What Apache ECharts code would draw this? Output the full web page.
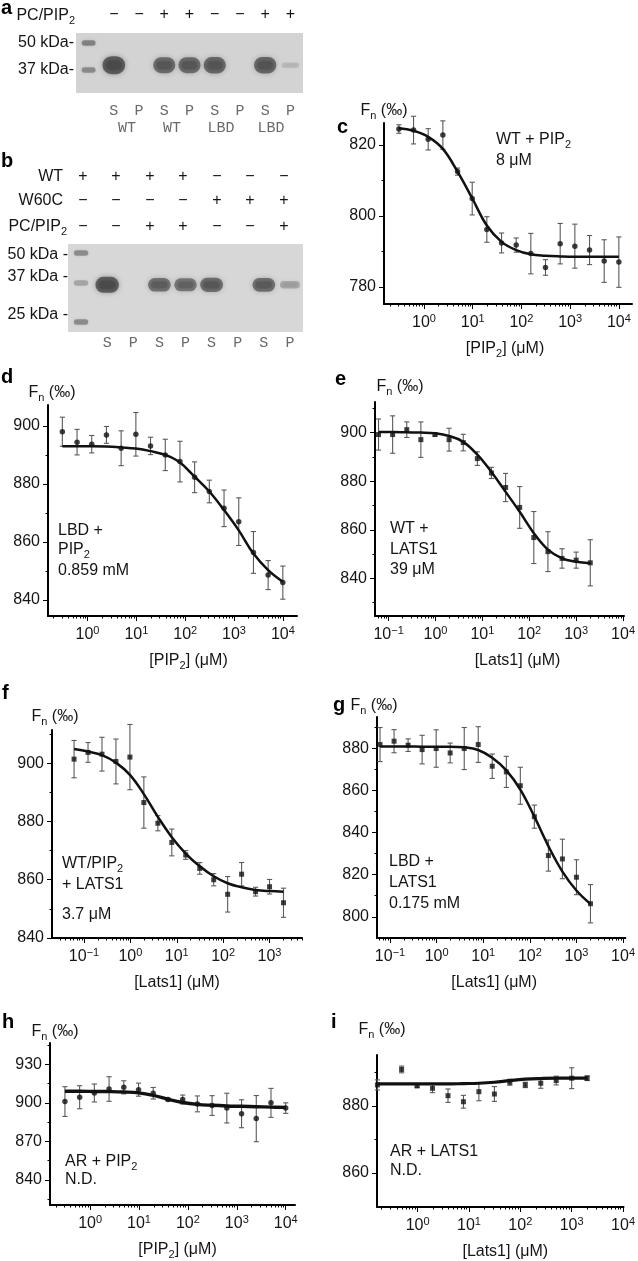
<!DOCTYPE html>
<html>
<head>
<meta charset="utf-8">
<title>Gels and MST binding curves</title>
<script src="https://cdn.jsdelivr.net/npm/echarts@6.0.0/dist/echarts.min.js"></script>
<style>
html,body{margin:0;padding:0;background:#ffffff;}
#chart{width:638px;height:1261px;}
</style>
</head>
<body>
<div id="chart"></div>
<script>
// ================= DATA =================
// --- Gel a ---
const gelA_lanes = ['', 'S', 'P', 'S', 'P', 'S', 'P', 'S', 'P'];
const gelA_signs = ['', '−', '−', '+', '+', '−', '−', '+', '+'];
const gelA_groups = ['WT', 'WT', 'LBD', 'LBD'];
const gelA_bandIntensity = [0, 1.0, 0, 0.85, 0.85, 0.88, 0, 0.9, 0.1];
const gelA_bandKDa = 39;
const gelA_ladderKDa = [50, 37];
const gelA_ladderIntensity = [0.5, 0.45];
// --- Gel b ---
const gelB_lanes = ['', 'S', 'P', 'S', 'P', 'S', 'P', 'S', 'P'];
const gelB_rowNames = ['WT', 'W60C', 'PC/PIP{sub|2}'];
const gelB_signsWT = ['+', '+', '+', '+', '−', '−', '−'];
const gelB_signsW60C = ['−', '−', '−', '−', '+', '+', '+'];
const gelB_signsPIP2 = ['−', '−', '+', '+', '−', '−', '+'];
const gelB_bandIntensity = [0, 1.0, 0, 0.8, 0.75, 0.85, 0, 0.82, 0.3];
const gelB_bandKDa = 36.3;
const gelB_ladderKDa = [50, 37, 25];
const gelB_ladderIntensity = [0.45, 0.3, 0.45];
const gelB_kDaLabels = ['50 kDa -', '37 kDa -', '25 kDa -'];

// --- MST concentrations (µM) ---
const concPIP2 = [0.305, 0.61, 1.22, 2.44, 4.88, 9.77, 19.5, 39.1, 78.1, 156, 312, 625, 1250, 2500, 5000, 10000];
const concLats1 = [0.061, 0.122, 0.244, 0.488, 0.977, 1.95, 3.91, 7.81, 15.6, 31.3, 62.5, 125, 250, 500, 1000, 2000];
const concLats1AR = [0.165, 0.488, 0.977, 1.95, 3.91, 7.81, 15.6, 31.3, 62.5, 125, 250, 500, 1000, 2000];

// c: WT + PIP2  (points, error bars, fitted curve read at each concentration)
const fnC = [824.5, 824.2, 821.6, 822.8, 812.5, 804.9, 796.2, 792.4, 791.8, 789.4, 785.5, 792.2, 791.5, 790.4, 787.3, 787.0];
const errC = [1.2, 3.9, 3.0, 4.0, 1.0, 4.6, 3.6, 2.8, 2.0, 5.7, 2.2, 5.7, 6.2, 4.1, 6.0, 7.1];
const fitC = [824.7, 824.0, 822.3, 818.9, 812.5, 805.0, 797.3, 792.7, 790.4, 789.2, 788.8, 788.6, 788.5, 788.5, 788.5, 788.5];
// d: LBD + PIP2
const fnD = [898.0, 894.4, 893.7, 896.9, 892.3, 897.1, 893.1, 890.0, 887.7, 882.3, 877.4, 871.6, 867.0, 856.4, 848.6, 846.0];
const errD = [5.0, 4.4, 3.0, 2.9, 6.0, 7.5, 3.0, 5.4, 7.0, 5.3, 3.9, 6.3, 8.2, 7.2, 5.0, 5.7];
const fitD = [893.0, 893.0, 893.0, 892.9, 892.6, 892.2, 891.3, 890.0, 887.4, 882.5, 877.4, 871.0, 864.0, 856.0, 850.3, 846.3];
// e: WT + LATS1
const fnE = [899.2, 899.2, 901.2, 897.1, 899.2, 897.1, 895.9, 889.3, 883.4, 877.4, 869.2, 856.8, 851.0, 848.2, 847.5, 846.4];
const errE = [6.4, 7.7, 3.2, 7.3, 0.6, 4.7, 3.4, 2.8, 2.3, 5.8, 8.6, 10.7, 8.2, 4.0, 3.3, 9.5];
const fitE = [900.2, 900.2, 900.1, 900.0, 899.7, 898.6, 896.2, 890.9, 883.8, 875.6, 867.4, 858.6, 851.8, 848.2, 846.8, 846.2];
// f: WT/PIP2 + LATS1
const fnF = [901.4, 903.7, 903.1, 900.6, 902.1, 886.5, 879.4, 872.8, 868.5, 863.9, 860.0, 855.0, 861.9, 855.9, 857.6, 852.1];
const errF = [6.4, 3.4, 5.8, 7.7, 11.2, 8.8, 2.6, 4.6, 1.5, 2.0, 2.1, 6.1, 4.0, 1.5, 2.5, 5.0];
const fitF = [904.9, 904.0, 902.8, 900.2, 896.0, 889.4, 881.6, 874.6, 869.0, 864.6, 861.2, 858.8, 857.4, 856.5, 856.1, 855.9];
// g: LBD + LATS1
const fnG = [881.9, 883.5, 881.6, 879.5, 880.0, 877.9, 880.0, 881.9, 871.6, 868.9, 862.3, 847.6, 829.1, 827.5, 818.8, 806.2];
const errG = [8.1, 5.5, 3.0, 6.8, 8.9, 4.7, 10.0, 8.5, 5.8, 7.4, 8.8, 5.5, 7.4, 9.4, 8.3, 9.1];
const fitG = [881.0, 881.0, 881.0, 880.9, 880.9, 880.9, 880.6, 879.3, 875.6, 869.6, 860.5, 847.6, 833.6, 821.5, 812.5, 806.1];
// h: AR + PIP2
const fnH = [901.0, 904.4, 907.7, 910.8, 912.1, 910.3, 907.5, 902.6, 902.6, 899.2, 897.9, 895.9, 891.5, 887.7, 900.0, 895.9];
const errH = [11.6, 9.0, 7.0, 9.6, 5.1, 5.1, 4.5, 1.0, 3.5, 6.2, 7.7, 11.6, 10.9, 18.0, 11.3, 4.1];
const fitH = [909.0, 909.0, 908.9, 908.8, 908.5, 907.8, 905.8, 902.8, 900.3, 898.8, 898.1, 897.6, 897.3, 897.0, 896.7, 896.5];
// i: AR + LATS1
const fnI = [886.2, 890.8, 885.9, 885.2, 883.0, 881.2, 884.2, 883.5, 887.0, 886.2, 886.7, 887.5, 888.2, 888.2];
const errI = [1.5, 1.0, 0.4, 1.3, 2.0, 1.9, 2.7, 2.2, 0.9, 0.8, 1.5, 1.3, 3.1, 0.7];
const fitI = [886.5, 886.5, 886.5, 886.5, 886.5, 886.6, 886.7, 887.0, 887.5, 887.9, 888.1, 888.2, 888.2, 888.2];

// --- tick labels ---
const xTicksPIP2 = [1, 10, 100, 1000, 10000];
const xTicksLatsWide = [0.1, 1, 10, 100, 1000, 10000];
const xTicksLatsF = [0.1, 1, 10, 100, 1000];
const xTicksLatsI = [1, 10, 100, 1000, 10000];
const minorMultipliers = [2, 3, 4, 5, 6, 7, 8, 9];
const yTicksC = [780, 800, 820];       const yMinorC = [790, 810];
const yTicksD = [840, 860, 880, 900];  const yMinorD = [850, 870, 890];
const yTicksE = [840, 860, 880, 900];  const yMinorE = [830, 850, 870, 890, 910];
const yTicksF = [840, 860, 880, 900];  const yMinorF = [850, 870, 890, 910];
const yTicksG = [800, 820, 840, 860, 880]; const yMinorG = [810, 830, 850, 870, 890];
const yTicksH = [840, 870, 900, 930];  const yMinorH = [825, 855, 885, 915, 945];
const yTicksI = [860, 880];            const yMinorI = [870, 890];

// ================= RENDER =================
const FONT = "'Liberation Sans', Arial, Helvetica, sans-serif";
const MONO = "'Liberation Mono', 'Courier New', monospace";
const INK = '#151515';
const chart = echarts.init(document.getElementById('chart'), null, {renderer: 'canvas', width: 638, height: 1261});

const grids = [], xAxes = [], yAxes = [], series = [], graphics = [];

function txt(x, y, text, o) {
  o = o || {};
  graphics.push({
    type: 'text', x: x, y: y, silent: true, z: 10,
    style: {
      text: text, fontSize: o.size || 16, fontFamily: o.family || FONT,
      fontWeight: o.bold ? 'bold' : 'normal', fill: o.color || INK,
      align: o.align || 'left', verticalAlign: 'middle', lineHeight: 20,
      rich: {
        sub: {fontSize: o.subSize || 11, fontFamily: FONT, fill: o.color || INK, lineHeight: 12, verticalAlign: 'bottom'}
      }
    }
  });
}

function logMinorTicks(min, max) {
  const out = [];
  for (let e = Math.floor(Math.log10(min)); e <= Math.ceil(Math.log10(max)); e++) {
    minorMultipliers.forEach(m => {
      const v = m * Math.pow(10, e);
      if (v > min && v < max) out.push(v);
    });
  }
  return out;
}

function supLabel(v) {
  const e = Math.round(Math.log10(v));
  return '{b|10}{s|' + (e < 0 ? '−' + (-e) : e) + '}';
}

const nameRich = {
  t: {fontSize: 16, fontFamily: FONT, color: INK, lineHeight: 20},
  sub: {fontSize: 11, fontFamily: FONT, color: INK, lineHeight: 12, verticalAlign: 'bottom'}
};

function addPlot(L, d) {
  const gi = grids.length;
  grids.push({left: L.left, top: L.top, width: L.width, height: L.height, show: false});
  const xi = xAxes.length, yi = yAxes.length;
  const xBase = {gridIndex: gi, type: 'log', logBase: 10, min: L.xMin, max: L.xMax, position: 'bottom', splitLine: {show: false}};
  xAxes.push(Object.assign({}, xBase, {
    axisLine: {show: true, onZero: false, lineStyle: {color: '#000', width: 2}},
    axisTick: {show: true, inside: false, length: 5, customValues: d.xTicks, lineStyle: {color: '#000', width: 1}},
    axisLabel: {show: true, customValues: d.xTicks, margin: 9, formatter: supLabel,
      rich: {b: {fontSize: 16, fontFamily: FONT, color: INK, lineHeight: 20},
             s: {fontSize: 11, fontFamily: FONT, color: INK, lineHeight: 10, verticalAlign: 'top'}}},
    name: d.xName, nameLocation: 'middle', nameGap: 35,
    nameTextStyle: {rich: nameRich, padding: L.xNameDx >= 0 ? [0, 0, 0, 2 * L.xNameDx] : [0, -2 * L.xNameDx, 0, 0]}
  }));
  xAxes.push(Object.assign({}, xBase, {
    axisLine: {show: false},
    axisTick: {show: true, inside: false, length: 2.5, customValues: logMinorTicks(L.xMin, L.xMax), lineStyle: {color: '#000', width: 1}},
    axisLabel: {show: false}
  }));
  const yBase = {gridIndex: gi, type: 'value', min: L.yMin, max: L.yMax, position: 'left', splitLine: {show: false}, scale: true};
  yAxes.push(Object.assign({}, yBase, {
    axisLine: {show: true, onZero: false, lineStyle: {color: '#000', width: 2}},
    axisTick: {show: true, inside: false, length: 5, customValues: d.yTicks, lineStyle: {color: '#000', width: 1}},
    axisLabel: {show: true, customValues: d.yTicks, margin: 8, fontSize: 16, fontFamily: FONT, color: INK},
    name: '{t|F}{sub|n}{t| (‰)}', nameLocation: 'end', nameGap: L.fnGap,
    nameTextStyle: {rich: nameRich, align: 'center', padding: [0, 0, 0, 2 * L.fnDx]}
  }));
  yAxes.push(Object.assign({}, yBase, {
    axisLine: {show: false},
    axisTick: {show: true, inside: false, length: 2.5, customValues: d.yMinor, lineStyle: {color: '#000', width: 1}},
    axisLabel: {show: false}
  }));
  // error bars
  series.push({
    type: 'custom', xAxisIndex: xi, yAxisIndex: yi, silent: true, z: 2, clip: false,
    data: d.x.map((x, i) => [x, d.y[i] - d.err[i], d.y[i] + d.err[i]]),
    encode: {x: 0, y: [1, 2]},
    renderItem: (params, api) => {
      const x = api.value(0);
      const lo = api.coord([x, api.value(1)]);
      const hi = api.coord([x, api.value(2)]);
      const cw = 2.6;
      const st = {stroke: '#5a5a5a', lineWidth: 1.1};
      return {type: 'group', children: [
        {type: 'line', shape: {x1: lo[0], y1: lo[1], x2: hi[0], y2: hi[1]}, style: st},
        {type: 'line', shape: {x1: lo[0] - cw, y1: lo[1], x2: lo[0] + cw, y2: lo[1]}, style: st},
        {type: 'line', shape: {x1: hi[0] - cw, y1: hi[1], x2: hi[0] + cw, y2: hi[1]}, style: st}
      ]};
    }
  });
  // fitted curve (values at each concentration)
  series.push({
    type: 'line', xAxisIndex: xi, yAxisIndex: yi, silent: true, z: 3,
    data: d.x.map((x, i) => [x, d.fit[i]]),
    showSymbol: false, symbol: 'none', smooth: 0.4, clip: false,
    lineStyle: {color: '#111', width: L.lw}
  });
  // measured points
  series.push({
    type: 'scatter', xAxisIndex: xi, yAxisIndex: yi, silent: true, z: 4,
    data: d.x.map((x, i) => [x, d.y[i]]),
    symbol: L.sym, symbolSize: L.sym === 'rect' ? 5 : 5.5,
    itemStyle: {color: '#111'}
  });
}

function addGel(G, d) {
  const gi = grids.length;
  grids.push({left: G.left, top: G.top, width: G.width, height: G.height, show: true, backgroundColor: G.bg, borderWidth: 0});
  const xi = xAxes.length, yi = yAxes.length;
  xAxes.push({gridIndex: gi, type: 'category', data: d.lanes, position: 'bottom',
    axisLine: {show: false}, axisTick: {show: false}, splitLine: {show: false},
    axisLabel: {show: true, interval: 0, margin: G.spMargin, fontFamily: MONO, fontSize: 15, color: '#6a6a6a'}});
  if (d.signs) {
    xAxes.push({gridIndex: gi, type: 'category', data: d.signs, position: 'top',
      axisLine: {show: false}, axisTick: {show: false}, splitLine: {show: false},
      axisLabel: {show: true, interval: 0, margin: 10, fontFamily: FONT, fontSize: 16, color: INK}});
  }
  yAxes.push({gridIndex: gi, type: 'log', logBase: 10, min: G.yMin, max: G.yMax, position: 'left',
    axisLine: {show: false}, axisTick: {show: false}, splitLine: {show: false},
    axisLabel: d.yLabels ? {show: true, customValues: d.ladder, margin: 2, fontSize: 16, fontFamily: FONT, color: INK,
      formatter: v => v + ' kDa-'} : {show: false}});
  // ladder marker bands
  series.push({
    type: 'custom', xAxisIndex: xi, yAxisIndex: yi, silent: true, z: 2,
    data: d.ladder.map((k, i) => [0, k, d.ladderInt[i]]),
    renderItem: (params, api) => {
      const c = api.coord([api.value(0), api.value(1)]);
      const lw = api.size([1, 0])[0];
      const it = api.value(2);
      const w = lw * 0.55, h = 5.5;
      return {type: 'rect', shape: {x: c[0] - w / 2, y: c[1] - h / 2, width: w, height: h, r: h / 2},
        style: {fill: 'rgba(70,70,70,' + it + ')', shadowBlur: 3, shadowColor: 'rgba(70,70,70,' + (it * 0.8) + ')'}};
    }
  });
  // protein bands
  const bands = [];
  d.intensity.forEach((it, i) => { if (i > 0 && it > 0) bands.push([i, d.bandKDa, it]); });
  series.push({
    type: 'custom', xAxisIndex: xi, yAxisIndex: yi, silent: true, z: 3,
    data: bands,
    renderItem: (params, api) => {
      const c = api.coord([api.value(0), api.value(1)]);
      const lw = api.size([1, 0])[0];
      const it = api.value(2);
      const w = lw * (0.6 + 0.3 * Math.sqrt(it));
      const h = 4 + G.bandH * it;
      const a = 0.1 + 0.62 * it;
      return {type: 'group', children: [
        {type: 'rect', shape: {x: c[0] - w / 2, y: c[1] - h / 2, width: w, height: h, r: h / 2},
          style: {fill: 'rgba(60,60,60,' + a + ')', shadowBlur: 5, shadowColor: 'rgba(60,60,60,' + (a * 0.8) + ')'}},
        {type: 'rect', shape: {x: c[0] - w * 0.36, y: c[1] - h * 0.26, width: w * 0.72, height: h * 0.52, r: h * 0.26},
          style: {fill: 'rgba(45,45,45,' + (0.22 * it) + ')', shadowBlur: 3, shadowColor: 'rgba(45,45,45,' + (0.2 * it) + ')'}}
      ]};
    }
  });
}

// ----- gels -----
addGel({left: 76, top: 33, width: 227, height: 60, bg: '#d3d3d3', yMin: 28.6, yMax: 55.9, spMargin: 11, bandH: 14},
  {lanes: gelA_lanes, signs: gelA_signs, ladder: gelA_ladderKDa, ladderInt: gelA_ladderIntensity,
   intensity: gelA_bandIntensity, bandKDa: gelA_bandKDa, yLabels: true});
addGel({left: 68, top: 244, width: 235, height: 88, bg: '#d7d7d7', yMin: 22.6, yMax: 54.7, spMargin: 4, bandH: 12},
  {lanes: gelB_lanes, signs: null, ladder: gelB_ladderKDa, ladderInt: gelB_ladderIntensity,
   intensity: gelB_bandIntensity, bandKDa: gelB_bandKDa, yLabels: false});

// ----- MST panels -----
const namePIP2 = '{t|[PIP}{sub|2}{t|] (μM)}';
const nameLats = '{t|[Lats1] (μM)}';
addPlot({left: 384, top: 123, width: 248, height: 181, xMin: 0.151, xMax: 18620, yMin: 775.2, yMax: 826.2, sym: 'circle', lw: 2.5, fnGap: 2, fnDx: 0, xNameDx: -3},
  {x: concPIP2, y: fnC, err: errC, fit: fitC, xTicks: xTicksPIP2, yTicks: yTicksC, yMinor: yMinorC, xName: namePIP2});
addPlot({left: 48, top: 405, width: 249, height: 211, xMin: 0.155, xMax: 19500, yMin: 834.5, yMax: 907.2, sym: 'circle', lw: 2.5, fnGap: 2, fnDx: 4, xNameDx: 16},
  {x: concPIP2, y: fnD, err: errD, fit: fitD, xTicks: xTicksPIP2, yTicks: yTicksD, yMinor: yMinorD, xName: namePIP2});
addPlot({left: 375, top: 402, width: 249, height: 214, xMin: 0.0513, xMax: 10470, yMin: 824.5, yMax: 912.6, sym: 'rect', lw: 2.5, fnGap: 5, fnDx: 25, xNameDx: 18},
  {x: concLats1, y: fnE, err: errE, fit: fitE, xTicks: xTicksLatsWide, yTicks: yTicksE, yMinor: yMinorE, xName: nameLats});
addPlot({left: 52, top: 730, width: 250, height: 208, xMin: 0.0204, xMax: 5012, yMin: 840, yMax: 911.4, sym: 'rect', lw: 2.5, fnGap: 3, fnDx: 3, xNameDx: 0},
  {x: concLats1, y: fnF, err: errF, fit: fitF, xTicks: xTicksLatsF, yTicks: yTicksF, yMinor: yMinorF, xName: nameLats});
addPlot({left: 377, top: 717, width: 251, height: 221, xMin: 0.0525, xMax: 11220, yMin: 789.9, yMax: 895, sym: 'rect', lw: 2.5, fnGap: 1, fnDx: -3, xNameDx: -7},
  {x: concLats1, y: fnG, err: errG, fit: fitG, xTicks: xTicksLatsWide, yTicks: yTicksG, yMinor: yMinorG, xName: nameLats});
addPlot({left: 50, top: 1043, width: 245, height: 164, xMin: 0.151, xMax: 15490, yMin: 820.3, yMax: 946.7, sym: 'circle', lw: 3.4, fnGap: 1, fnDx: 5, xNameDx: 5},
  {x: concPIP2, y: fnH, err: errH, fit: fitH, xTicks: xTicksPIP2, yTicks: yTicksH, yMinor: yMinorH, xName: namePIP2});
addPlot({left: 377, top: 1055, width: 248, height: 152, xMin: 0.162, xMax: 10230, yMin: 849.9, yMax: 895.1, sym: 'rect', lw: 3.2, fnGap: 15, fnDx: 5, xNameDx: 5},
  {x: concLats1AR, y: fnI, err: errI, fit: fitI, xTicks: xTicksLatsI, yTicks: yTicksI, yMinor: yMinorI, xName: nameLats});

// ----- text: panel letters -----
[['a', 1, 8], ['b', 1, 161], ['c', 337, 127], ['d', 1, 377], ['e', 335, 379],
 ['f', 2, 693], ['g', 333, 705], ['h', 2, 1022], ['i', 331, 1022]].forEach(p => txt(p[1], p[2], p[0], {bold: true, size: 20, color: '#000'}));

// gel a labels
txt(75, 16, 'PC/PIP{sub|2}', {align: 'right'});
const gelA_groupX = [127, 172, 221, 271];
gelA_groups.forEach((g, i) => txt(gelA_groupX[i], 128, g, {align: 'center', family: MONO, size: 15, color: '#6a6a6a'}));

// gel b labels
const signXB = [83, 116, 150, 183, 217, 250, 284];
const rowYB = [177, 201, 227];
const rowRightB = [63, 63, 67];
[gelB_signsWT, gelB_signsW60C, gelB_signsPIP2].forEach((row, r) => {
  txt(rowRightB[r], rowYB[r], gelB_rowNames[r], {align: 'right'});
  row.forEach((s, i) => txt(signXB[i], rowYB[r], s, {align: 'center'}));
});
const kDaYB = [255, 277, 315];
gelB_kDaLabels.forEach((l, i) => txt(68, kDaYB[i], l, {align: 'right'}));

// in-plot annotations
txt(496, 140, 'WT + PIP{sub|2}'); txt(496, 161, '8 μM');
txt(58, 531, 'LBD +'); txt(58, 550, 'PIP{sub|2}'); txt(58, 571, '0.859 mM');
txt(390, 529, 'WT +'); txt(390, 550, 'LATS1'); txt(390, 570, '39 μM');
txt(62, 864, 'WT/PIP{sub|2}'); txt(62, 885, '+ LATS1'); txt(62, 915, '3.7 μM');
txt(389, 862, 'LBD +'); txt(389, 883, 'LATS1'); txt(389, 904, '0.175 mM');
txt(65, 1162, 'AR + PIP{sub|2}'); txt(65, 1180, 'N.D.');
txt(390, 1152, 'AR + LATS1'); txt(390, 1171, 'N.D.');

chart.setOption({
  animation: false,
  backgroundColor: '#ffffff',
  textStyle: {fontFamily: FONT},
  grid: grids,
  xAxis: xAxes,
  yAxis: yAxes,
  series: series,
  graphic: {elements: graphics}
});
</script>
</body>
</html>
